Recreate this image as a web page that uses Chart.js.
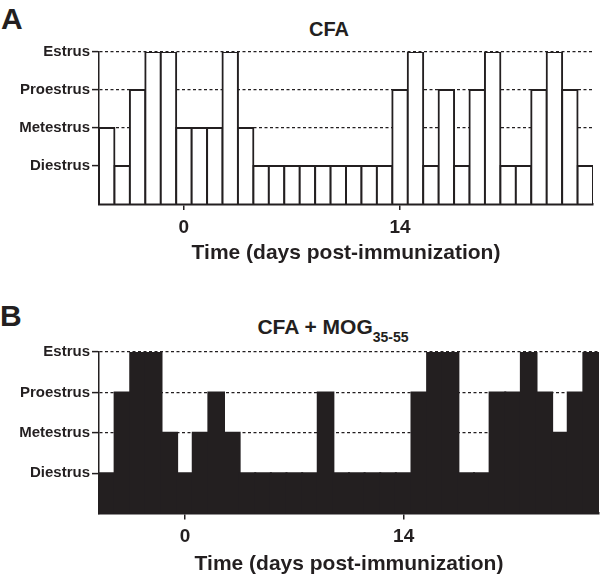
<!DOCTYPE html>
<html>
<head>
<meta charset="utf-8">
<script src="https://cdn.jsdelivr.net/npm/chart.js@4.4.0/dist/chart.umd.min.js"></script>
<style>
  body { margin: 0; background: #fff; width: 600px; height: 575px; position: relative; overflow: hidden;
         font-family: "Liberation Sans", Arial, sans-serif; font-weight: bold; color: #231f20; }
  canvas { position: absolute; left: 0; }
  #chartA { top: 0; }
  #chartB { top: 290px; }
  .txt { position: absolute; line-height: 1; white-space: nowrap; }
  .ttl { transform: translateX(-50%); }
  .txt sub { font-size: 14px; vertical-align: -8px; line-height: 1; }
</style>
</head>
<body>
<div class="txt" style="left:1px;top:4px;font-size:30px">A</div>
<div class="txt ttl" style="left:329px;top:19px;font-size:20px">CFA</div>
<div class="txt" style="left:0;top:301px;font-size:30px">B</div>
<div class="txt ttl" style="left:333px;top:316px;font-size:21px">CFA + MOG<sub>35-55</sub></div>
<canvas id="chartA" width="600" height="285"></canvas>
<canvas id="chartB" width="600" height="285"></canvas>
<script>
// days relative to immunization
const DAYS = [-5, -4, -3, -2, -1, 0, 1, 2, 3, 4, 5, 6, 7, 8, 9, 10,
              11, 12, 13, 14, 15, 16, 17, 18, 19, 20, 21, 22, 23, 24, 25, 26];
// 1 = Diestrus, 2 = Metestrus, 3 = Proestrus, 4 = Estrus
const STAGES = ['Diestrus', 'Metestrus', 'Proestrus', 'Estrus'];
const CFA = [2, 1, 3, 4, 4, 2, 2, 2, 4, 2, 1, 1, 1, 1, 1, 1,
             1, 1, 1, 3, 4, 1, 3, 1, 3, 4, 1, 1, 3, 4, 3, 1];
const CFA_MOG = [1, 3, 4, 4, 2, 1, 2, 3, 2, 1, 1, 1, 1, 1, 3, 1,
                 1, 1, 1, 1, 3, 4, 4, 1, 1, 3, 3, 4, 3, 2, 3, 4];
const X_TICKS = ['0', '14'];

const INK = '#231f20';
const NONE = 'rgba(0,0,0,0)';

function stageChart(id, values, fill, barBorder, inflate, padding, xHeight) {
  const shownX = (i) => X_TICKS.includes(String(DAYS[i]));
  const yMark = (c) => (c.tick && c.tick.value > 0) ? INK : NONE;
  return new Chart(document.getElementById(id), {
    type: 'bar',
    data: {
      labels: DAYS,
      datasets: [{
        data: values,
        backgroundColor: fill,
        borderColor: INK,
        borderWidth: barBorder,
        inflateAmount: inflate,
        barPercentage: 1,
        categoryPercentage: 1
      }]
    },
    options: {
      responsive: false,
      animation: false,
      layout: { padding: padding },
      plugins: { legend: { display: false }, tooltip: { enabled: false } },
      scales: {
        x: {
          grid: {
            drawOnChartArea: false, offset: false, tickLength: 6, lineWidth: 1.5,
            color: (c) => shownX(c.index) ? INK : NONE,
            tickColor: (c) => shownX(c.index) ? INK : NONE
          },
          border: { color: INK, width: 2.5 },
          ticks: {
            autoSkip: false, maxRotation: 0, padding: 6, color: INK,
            font: { family: 'Liberation Sans, Arial, sans-serif', size: 19, weight: 'bold' },
            callback: (v, i) => shownX(i) ? String(DAYS[i]) : ''
          },
          title: {
            display: true, text: 'Time (days post-immunization)', color: INK, padding: 0,
            font: { family: 'Liberation Sans, Arial, sans-serif', size: 21, weight: 'bold', lineHeight: 1 }
          },
          afterFit: (s) => { s.height = xHeight; }
        },
        y: {
          min: 0, max: 4,
          ticks: {
            stepSize: 1, padding: 2, color: INK,
            font: { family: 'Liberation Sans, Arial, sans-serif', size: 15, weight: 'bold' },
            callback: (v) => STAGES[v - 1] || ''
          },
          grid: {
            lineWidth: 1.2, tickLength: 7, tickWidth: 1.5, tickBorderDash: [],
            color: yMark, tickColor: yMark
          },
          border: { color: INK, width: 1.5, dash: [3, 2.5] },
          afterFit: (s) => { s.width = 99; }
        }
      }
    }
  });
}

stageChart('chartA', CFA, '#ffffff', 2, 1, { top: 52, right: 7, bottom: 21, left: 0 }, 60);
stageChart('chartB', CFA_MOG, INK, 0, 1, { top: 62, right: 1, bottom: 0.5, left: 0 }, 61);
</script>
</body>
</html>
